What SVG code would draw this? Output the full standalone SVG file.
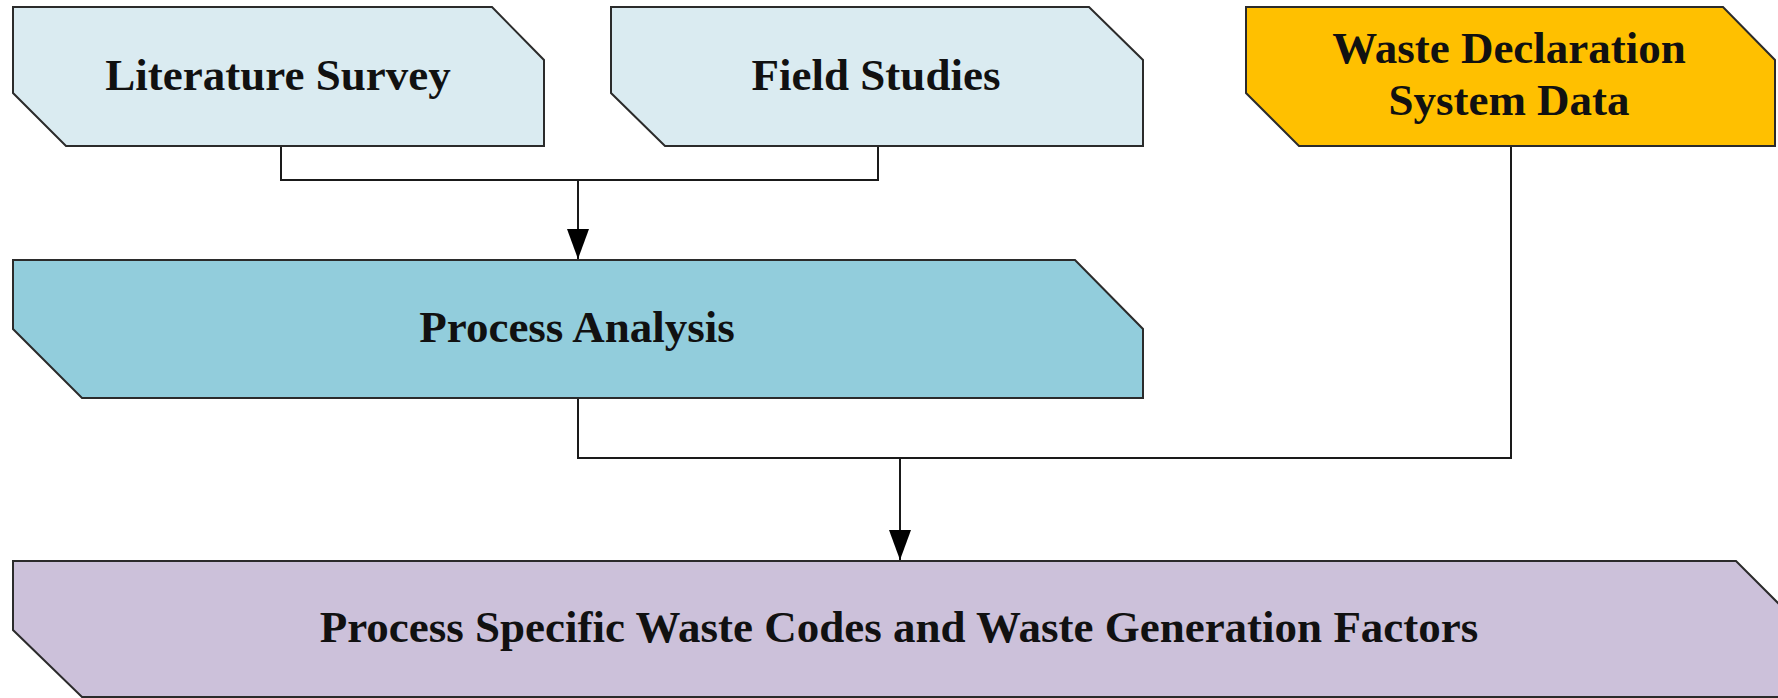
<svg xmlns="http://www.w3.org/2000/svg" width="1778" height="698" viewBox="0 0 1778 698">
<style>
.box{stroke:#2b2b2b;stroke-width:2;stroke-linejoin:miter}
.lt{fill:#DAEBF1}
.pa{fill:#92CDDC}
.wd{fill:#FFC000}
.fn{fill:#CCC1DA}
.lbl{font-family:"Liberation Serif","Times New Roman",serif;font-weight:bold;font-size:45px;fill:#111;text-anchor:middle}
.con{fill:none;stroke:#1a1a1a;stroke-width:2}
</style>
<defs>
<marker id="arr" viewBox="0 0 30 22" refX="30" refY="11" markerWidth="30" markerHeight="22" markerUnits="userSpaceOnUse" orient="auto">
<path d="M0,0 L30,11 L0,22 Z" fill="#000"/>
</marker>
</defs>
<rect width="1778" height="698" fill="#fff"/>
<g id="connectors">
<path class="con" d="M281,146 V180 H878 V146"/>
<path class="con" d="M578,180 V259" marker-end="url(#arr)"/>
<path class="con" d="M578,398 V458 H1511 V146"/>
<path class="con" d="M900,458 V560" marker-end="url(#arr)"/>
</g>
<g id="literature-survey">
<polygon class="box lt" points="13,7 492,7 544,60 544,146 66,146 13,93"/>
<text class="lbl" x="278" y="90">Literature Survey</text>
</g>
<g id="field-studies">
<polygon class="box lt" points="611,7 1089,7 1143,60 1143,146 665,146 611,93"/>
<text class="lbl" x="876" y="90">Field Studies</text>
</g>
<g id="waste-declaration">
<polygon class="box wd" points="1246,7 1723,7 1775,60 1775,146 1299,146 1246,93"/>
<text class="lbl" x="1509" y="63">Waste Declaration</text>
<text class="lbl" x="1509" y="115">System Data</text>
</g>
<g id="process-analysis">
<polygon class="box pa" points="13,260 1075,260 1143,329 1143,398 82,398 13,329"/>
<text class="lbl" x="577" y="342">Process Analysis</text>
</g>
<g id="final-output">
<polygon class="box fn" points="13,561 1736,561 1805,630 1805,697 82,697 13,630"/>
<text class="lbl" x="899" y="642">Process Specific Waste Codes and Waste Generation Factors</text>
</g>
</svg>
